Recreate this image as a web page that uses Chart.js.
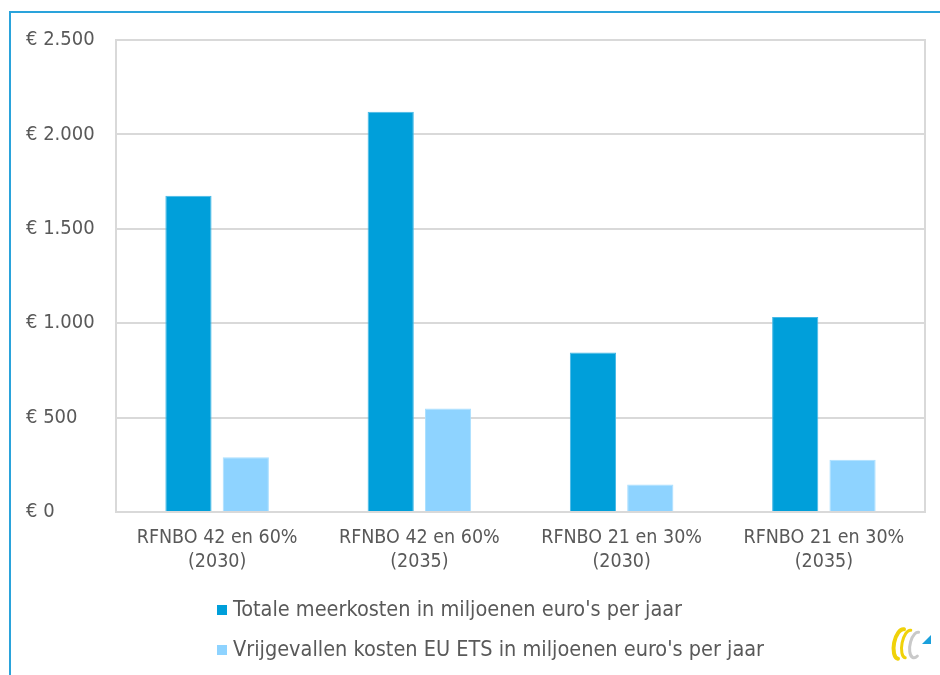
<!DOCTYPE html>
<html lang="nl">
<head>
  <meta charset="UTF-8">
  <title>Meerkosten RFNBO-scenario's</title>
  <script src="https://cdn.jsdelivr.net/npm/chart.js"></script>
  <style>
    html, body {
      margin: 0;
      padding: 0;
      background: #fff;
      overflow: hidden;
    }
    .frame {
      position: absolute;
      left: 9px;
      top: 11px;
      width: 1000px;
      height: 800px;
      border-top: 2px solid #2aa3db;
      border-left: 2px solid #2aa3db;
    }
    .chart-container {
      position: absolute;
      left: 0;
      top: 0;
      width: 940px;
      height: 675px;
    }
  </style>
</head>
<body>
  <div class="frame"></div>
  <div class="chart-container">
    <canvas id="myChart"></canvas>
  </div>

  <script>
    const scenarios = [
      ['RFNBO 42 en 60%', '(2030)'],
      ['RFNBO 42 en 60%', '(2035)'],
      ['RFNBO 21 en 30%', '(2030)'],
      ['RFNBO 21 en 30%', '(2035)']
    ];
    const totaleMeerkosten = [1675, 2120, 845, 1033];
    const vrijgevallenEts = [290, 548, 146, 277];
    const yMax = 2500;
    const yStep = 500;

    const FONT = '"DejaVu Sans Condensed", "Liberation Sans Narrow", sans-serif';
    const TEXT = '#595959';
    const GRID = '#d9d9d9';

    function euro(v) {
      return '€ ' + String(v).replace(/\B(?=(\d{3})+(?!\d))/g, '.');
    }

    // grey frame around the plot area
    const plotFrame = {
      id: 'plotFrame',
      beforeDatasetsDraw(chart) {
        const a = chart.chartArea;
        const ctx = chart.ctx;
        ctx.save();
        ctx.strokeStyle = GRID;
        ctx.lineWidth = 2;
        ctx.strokeRect(a.left, a.top, a.right - a.left, a.bottom - a.top);
        ctx.restore();
      }
    };

    // legend stacked below the axis, left aligned, plus the small logo
    const stackedLegend = {
      id: 'stackedLegend',
      afterDraw(chart) {
        const ctx = chart.ctx;
        const a = chart.chartArea;
        const x = a.left + 101;
        ctx.save();
        ctx.font = '21.5px ' + FONT;
        ctx.textBaseline = 'middle';
        chart.data.datasets.forEach((ds, i) => {
          const y = a.bottom + 98 + i * 40;
          ctx.fillStyle = ds.backgroundColor;
          ctx.fillRect(x, y - 5, 10, 10);
          ctx.fillStyle = TEXT;
          ctx.fillText(ds.label, x + 16, y);
        });

        // logo
        ctx.lineCap = 'round';
        ctx.lineWidth = 4;
        ctx.strokeStyle = '#f0d20a';
        ctx.beginPath();
        ctx.ellipse(901, 644, 7, 15, 0.2, Math.PI * 0.5, Math.PI * 1.5);
        ctx.stroke();
        ctx.lineWidth = 3;
        ctx.beginPath();
        ctx.ellipse(908, 644, 6, 14, 0.2, Math.PI * 0.5, Math.PI * 1.5);
        ctx.stroke();
        ctx.strokeStyle = '#c9c9c9';
        ctx.beginPath();
        ctx.ellipse(916, 645, 6, 13, 0.2, Math.PI * 0.3, Math.PI * 1.5);
        ctx.stroke();
        ctx.fillStyle = '#1aa0dc';
        ctx.beginPath();
        ctx.moveTo(922, 644);
        ctx.lineTo(931, 635);
        ctx.lineTo(931, 644);
        ctx.closePath();
        ctx.fill();
        ctx.restore();
      }
    };

    const ctx = document.getElementById('myChart').getContext('2d');
    new Chart(ctx, {
      type: 'bar',
      data: {
        labels: scenarios,
        datasets: [{
          label: "Totale meerkosten in miljoenen euro's per jaar",
          data: totaleMeerkosten,
          backgroundColor: '#009fda',
          borderColor: '#45b8e6',
          borderWidth: 1,
          categoryPercentage: 0.567,
          barPercentage: 0.806
        }, {
          label: "Vrijgevallen kosten EU ETS in miljoenen euro's per jaar",
          data: vrijgevallenEts,
          backgroundColor: '#8ed3ff',
          borderColor: '#aadfff',
          borderWidth: 1,
          categoryPercentage: 0.567,
          barPercentage: 0.806
        }]
      },
      options: {
        responsive: true,
        maintainAspectRatio: false,
        animation: false,
        layout: {
          padding: { left: 26, right: 15, top: 40, bottom: 0 }
        },
        scales: {
          y: {
            min: 0,
            max: yMax,
            ticks: {
              stepSize: yStep,
              crossAlign: 'far',
              color: TEXT,
              font: { family: FONT, size: 20 },
              callback: v => euro(v)
            },
            grid: { color: GRID, lineWidth: 2, drawTicks: false },
            border: { display: false },
            afterFit: s => { s.width = 90; }
          },
          x: {
            grid: { display: false },
            border: { display: false },
            ticks: {
              color: TEXT,
              padding: 6,
              maxRotation: 0,
              font: { family: FONT, size: 19.5, lineHeight: 1.23 }
            },
            afterFit: s => { s.height = 163; }
          }
        },
        plugins: {
          legend: { display: false },
          tooltip: { enabled: false }
        }
      },
      plugins: [plotFrame, stackedLegend]
    });
  </script>
</body>
</html>
